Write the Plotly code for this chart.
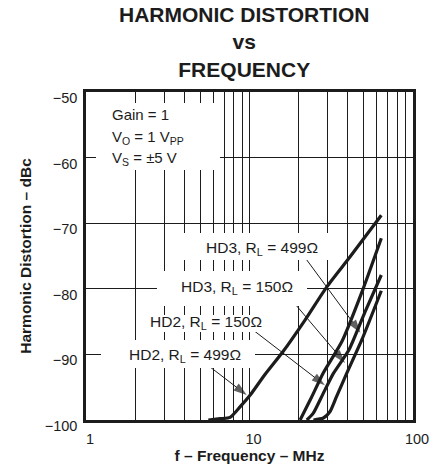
import math
import plotly.graph_objects as go

# Harmonic distortion (dBc) versus frequency (MHz) for each load / harmonic
hd2_499_f = [5.6, 6.6, 7.6, 8.75, 10.1, 12.4, 16.0, 21.8, 29.7, 41.0, 64.0]
hd2_499_db = [-100.0, -99.8, -99.6, -98.0, -96.2, -93.1, -89.6, -84.8, -79.7, -75.2, -68.8]

hd2_150_f = [20.4, 24.0, 28.3, 36.8, 49.2, 64.0]
hd2_150_db = [-100.0, -96.5, -92.8, -88.0, -80.2, -72.3]

hd3_150_f = [22.4, 24.5, 28.3, 32.6, 40.6, 50.9, 64.0]
hd3_150_db = [-100.0, -99.0, -95.9, -92.9, -89.3, -83.5, -77.9]

hd3_499_f = [24.6, 28.3, 31.1, 34.1, 39.3, 48.6, 64.0]
hd3_499_db = [-100.0, -99.7, -98.7, -96.4, -92.9, -87.8, -80.3]

x_tick_vals = [1, 10, 100]
x_minor_vals = [2, 3, 4, 5, 6, 7, 8, 9, 20, 30, 40, 50, 60, 70, 80, 90]
y_tick_vals = [-100, -90, -80, -70, -60, -50]

FONT = "Liberation Sans, Arial, Helvetica, sans-serif"
INK = "#1c1c1c"

# plot area in page pixels
L, R, T, B = 86, 413, 92, 420
W_PAGE, H_PAGE = 444, 470


def px(xp):
    return (xp - L) / (R - L)


def py(yp):
    return (B - yp) / (B - T)


fig = go.Figure()

for f, db in [(hd2_499_f, hd2_499_db), (hd2_150_f, hd2_150_db),
              (hd3_150_f, hd3_150_db), (hd3_499_f, hd3_499_db)]:
    fig.add_trace(go.Scatter(
        x=f, y=db, mode="lines",
        line=dict(color=INK, width=3.2, shape="spline", smoothing=0.6),
        showlegend=False, hoverinfo="skip", cliponaxis=False,
    ))

# white panels that break the grid behind each text block
panels = [
    (96, 103, 220, 170),
    (176, 233, 335, 260),
    (157, 271, 307, 306),
    (137, 315, 276, 332),
    (101, 340, 255, 368),
]
for x0, y0, x1, y1 in panels:
    fig.add_shape(type="rect", xref="paper", yref="paper",
                  x0=px(x0), x1=px(x1), y0=py(y1), y1=py(y0),
                  fillcolor="white", line=dict(width=0), layer="above")

# conditions block
cond_lines = [
    ("Gain = 1", 115),
    ("V<sub>O</sub> = 1 V<sub>PP</sub>", 137),
    ("V<sub>S</sub> = ±5 V", 158),
]
for txt, yc in cond_lines:
    fig.add_annotation(text=txt, xref="paper", yref="paper",
                       x=px(110), y=py(yc), xanchor="left", yanchor="middle",
                       showarrow=False, font=dict(family=FONT, size=15, color=INK))

# curve labels with pointer arrows: (text, centre px x, centre px y,
# arrow tip (MHz, dBc), arrow tail (MHz, dBc))
labels = [
    ("HD3, R<sub>L</sub> = 499Ω", 262, 248, (47.7, -86.7), (22.4, -75.6)),
    ("HD3, R<sub>L</sub> = 150Ω", 237, 287, (38.4, -91.3), (17.4, -81.2)),
    ("HD2, R<sub>L</sub> = 150Ω", 206, 322, (28.9, -94.7), (10.8, -86.5)),
    ("HD2, R<sub>L</sub> = 499Ω", 185, 355, (9.61, -96.2), (5.73, -91.9)),
]
for txt, xc, yc, tip, tail in labels:
    fig.add_annotation(text=txt, xref="paper", yref="paper",
                       x=px(xc), y=py(yc), xanchor="center", yanchor="middle",
                       showarrow=False, font=dict(family=FONT, size=15.5, color=INK))
    fig.add_trace(go.Scatter(
        x=[tail[0], tip[0]], y=[tail[1], tip[1]], mode="lines+markers",
        line=dict(color=INK, width=1),
        marker=dict(symbol="arrow", size=[0, 14], angleref="previous",
                    color=INK, line=dict(width=0)),
        showlegend=False, hoverinfo="skip", cliponaxis=False,
    ))

fig.add_annotation(text="<b>HARMONIC DISTORTION<br>vs<br>FREQUENCY</b>",
                   xref="paper", yref="paper", x=px(244), y=py(1),
                   xanchor="center", yanchor="top", showarrow=False,
                   font=dict(family=FONT, size=21, color=INK))

fig.update_xaxes(
    type="log", range=[0, 2],
    tickvals=x_tick_vals, ticktext=[str(v) for v in x_tick_vals],
    showgrid=True, gridcolor=INK, gridwidth=1,
    minor=dict(tickvals=x_minor_vals, showgrid=True, gridcolor=INK, gridwidth=1, ticks=""),
    showline=True, linecolor=INK, linewidth=2.5, mirror=True,
    ticks="", zeroline=False,
    tickfont=dict(family=FONT, size=14.5, color=INK),
    ticklabelshift=4, ticklabelstandoff=4,
    title=dict(text="<b>f – Frequency – MHz</b>", standoff=2,
               font=dict(family=FONT, size=15.5, color=INK)),
)
fig.update_yaxes(
    range=[-100, -50], tickvals=y_tick_vals,
    showgrid=True, gridcolor=INK, gridwidth=1,
    showline=True, linecolor=INK, linewidth=2.5, mirror=True,
    ticks="", zeroline=False,
    tickfont=dict(family=FONT, size=14.5, color=INK),
    ticklabelshift=6, ticklabelstandoff=3,
    title=dict(text="<b>Harmonic Distortion – dBc</b>", standoff=10,
               font=dict(family=FONT, size=15.5, color=INK)),
)

fig.update_layout(
    width=W_PAGE, height=H_PAGE,
    margin=dict(l=L, r=W_PAGE - R, t=T, b=H_PAGE - B, autoexpand=False),
    paper_bgcolor="white", plot_bgcolor="white",
    font=dict(family=FONT, color=INK),
)

fig.write_html("out.html")
